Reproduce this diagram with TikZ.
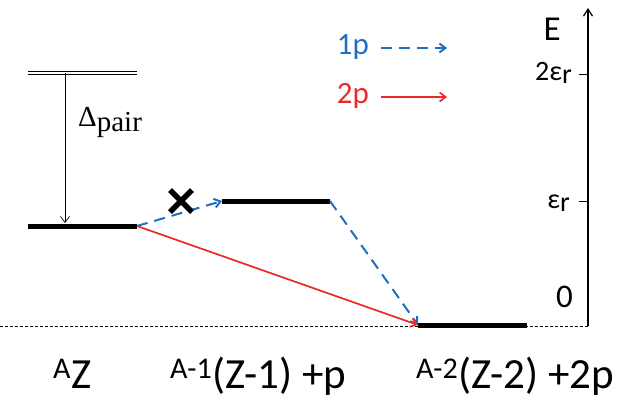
\documentclass[tikz,border=0pt]{standalone}
\usepackage{fontspec}
\setmainfont{Carlito}
\newfontfamily\seriffont{Liberation Serif}
\usetikzlibrary{arrows.meta}
\definecolor{pblue}{RGB}{30,112,190}
\definecolor{pred}{RGB}{238,40,40}
\tikzset{
  level/.style={line width=5pt},
  oneP/.style={pblue, line width=2pt, dash pattern=on 11pt off 7pt, -{Straight Barb[length=6pt,width=9pt]}},
  twoP/.style={pred, line width=1.7pt, -{Straight Barb[length=6pt,width=9pt]}},
  lbl/.style={inner sep=0pt},
}
\newcommand{\sr}{\raisebox{-0.25ex}{r}}
\begin{document}
\begin{tikzpicture}[x=1pt,y=-1pt]
\useasboundingbox (0,0) rectangle (621,399);
% level coordinates
\coordinate (t1) at (28,73); \coordinate (t2) at (137,73);
\coordinate (a1) at (28,226); \coordinate (a2) at (137,226);
\coordinate (b1) at (222,201); \coordinate (b2) at (330,201);
\coordinate (c1) at (418,325); \coordinate (c2) at (527,325);
\coordinate (dtop) at (65,73); \coordinate (dbot) at (65,223);
\coordinate (base0) at (0,326); \coordinate (axb) at (588,326);
\coordinate (axt) at (588,8);
% baseline
\draw[dash pattern=on 3pt off 2pt, line width=0.8pt] (base0) -- (axb);
% levels
\draw[double, double distance=2.6pt, line width=0.7pt] (t1) -- (t2);
\draw[level] (a1) -- (a2);
\draw[level] (b1) -- (b2);
\draw[level] (c1) -- (c2);
% pairing arrow
\draw[line width=0.7pt, -{Straight Barb[length=6pt,width=9pt]}] (dtop) -- (dbot);
\node[lbl, anchor=base west] (dp) at (78,126) {\fontsize{29}{32}\selectfont\seriffont Δ\raisebox{-0.45ex}{pair}};
% transitions
\draw[oneP] (a2) -- (b1);
\draw[oneP] (b2) -- (c1);
\draw[twoP] (a2) -- (c1);
% cross
\coordinate (x0) at (181,201);
\draw[line width=5.5pt] ([shift={(-11,-11)}]x0) -- ([shift={(11,11)}]x0);
\draw[line width=5.5pt] ([shift={(-11,11)}]x0) -- ([shift={(11,-11)}]x0);
% axis
\draw[line width=1.2pt, -{Straight Barb[length=7pt,width=9pt]}] (axb) -- (axt);
\draw[line width=1pt] (579,74) -- (588,74);
\draw[line width=1pt] (579,201) -- (588,201);
\node[lbl, anchor=base east] (E) at (561,40) {\fontsize{35}{38}\selectfont E};
\node[lbl, anchor=base east] (e2) at (572,80) {\fontsize{28}{30}\selectfont 2ε\sr};
\node[lbl, anchor=base east] (e1) at (570,208) {\fontsize{28}{30}\selectfont ε\sr};
\node[lbl, anchor=base east] (z0) at (573,307) {\fontsize{33}{36}\selectfont 0};
% legend
\node[lbl, anchor=base east, pblue] (l1) at (369,54) {\fontsize{31}{34}\selectfont 1p};
\node[lbl, anchor=base east, pred] (l2) at (369,103) {\fontsize{31}{34}\selectfont 2p};
\coordinate (l1e) at (447,48); \coordinate (l2e) at (447,97);
\draw[oneP] ([xshift=12pt]l1.east |- l1e) -- (l1e);
\draw[twoP] ([xshift=12pt]l2.east |- l2e) -- (l2e);
% bottom labels
\node[lbl, anchor=base west] (s1) at (53,388) {\fontsize{43}{48}\selectfont \textsuperscript{A}Z};
\node[lbl, anchor=base west] (s2) at (170,388) {\fontsize{43}{48}\selectfont \textsuperscript{A-1}(Z-1) +p};
\node[lbl, anchor=base west] (s3) at (416,388) {\fontsize{43}{48}\selectfont \textsuperscript{A-2}(Z-2) +2p};
\end{tikzpicture}
\end{document}
